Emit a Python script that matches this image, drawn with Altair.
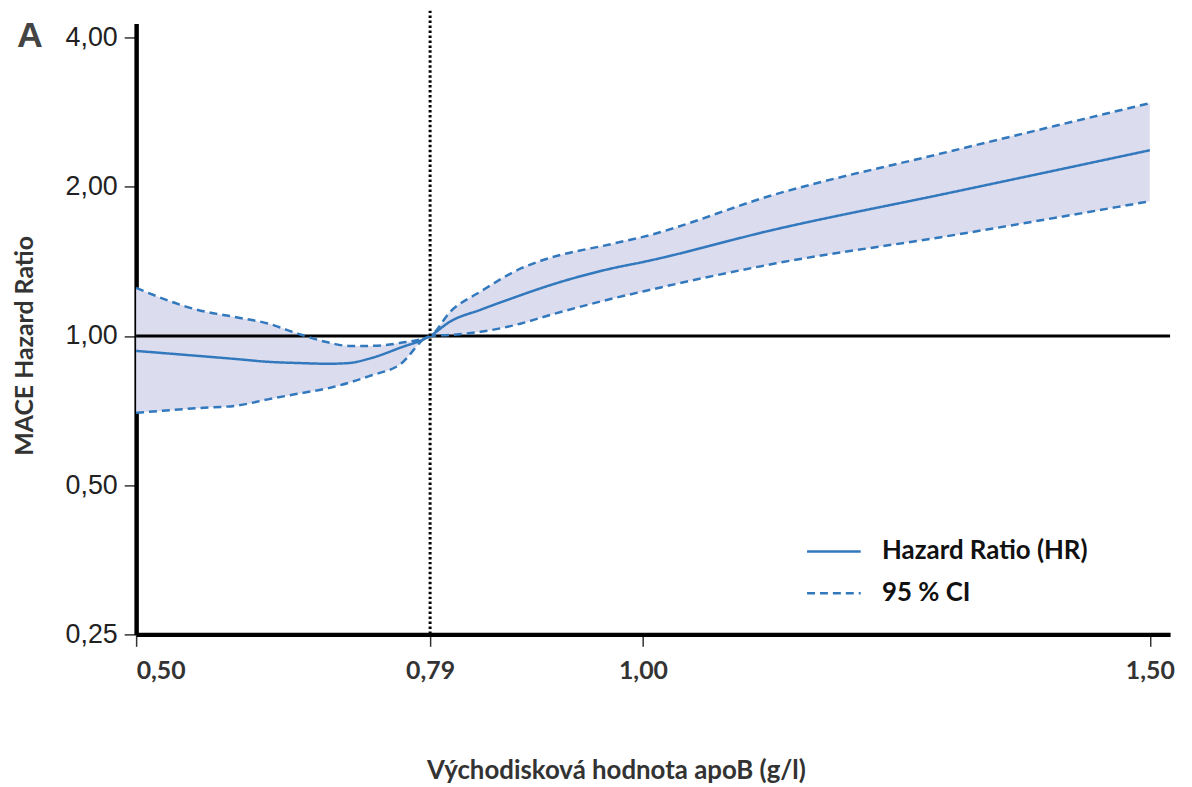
import altair as alt
import pandas as pd

# Baseline apoB (g/l)
x_vals = [0.50, 0.56, 0.60, 0.63, 0.66, 0.69, 0.71, 0.73, 0.76, 0.79, 0.81, 0.84,
          0.88, 0.90, 0.97, 1.00, 1.13, 1.30, 1.50]
hr = [0.933, 0.912, 0.898, 0.887, 0.882, 0.879, 0.882, 0.900, 0.946, 1.0, 1.07, 1.13,
      1.21, 1.25, 1.37, 1.41, 1.64, 1.94, 2.37]
upper = [1.25, 1.13, 1.09, 1.06, 1.01, 0.97, 0.955, 0.955, 0.968, 1.0, 1.12, 1.23,
         1.37, 1.42, 1.535, 1.585, 1.93, 2.35, 2.95]
lower = [0.70, 0.715, 0.724, 0.745, 0.765, 0.785, 0.805, 0.83, 0.875, 1.0, 1.005, 1.02,
         1.06, 1.09, 1.19, 1.23, 1.40, 1.59, 1.87]

series_names = ["Hazard Ratio (HR)", "95 % CI"]
x_ticks = [0.50, 0.79, 1.00, 1.50]
y_ticks = [0.25, 0.5, 1.0, 2.0, 4.0]
ref_x = [0.79]
ref_y = [1.0]

band = pd.DataFrame({"x": x_vals, "lower": lower, "upper": upper})
rows = []
for xv, h, u, l in zip(x_vals, hr, upper, lower):
    rows.append({"x": xv, "y": h, "series": series_names[0], "part": "hr"})
    rows.append({"x": xv, "y": u, "series": series_names[1], "part": "upper"})
    rows.append({"x": xv, "y": l, "series": series_names[1], "part": "lower"})
lines = pd.DataFrame(rows)

BLUE = "#3278bd"
FILL = "#dcdcef"
FONT_B = "Lato"
TXT = "#333333"

xscale = alt.Scale(domain=[0.5, 1.52], nice=False, zero=False)
yscale = alt.Scale(type="log", base=2, domain=[0.25, 4.27], nice=False)

fmt = "replace(format(datum.value, '.2f'), '.', ',')"

x_axis = alt.Axis(values=x_ticks, labelExpr=fmt, grid=False, domainColor="black",
                  domainWidth=4.5, tickColor="#333", tickWidth=1.5, tickSize=12,
                  labelFont=FONT_B, labelFontSize=25, labelFontWeight="bold", labelColor=TXT,
                  labelPadding=12, title="Východisková hodnota apoB (g/l)",
                  titleFont=FONT_B, titleFontSize=26, titleFontWeight="bold", titleColor=TXT,
                  titleX=483, titleY=124, titleBaseline="top")
y_axis = alt.Axis(values=y_ticks, labelExpr=fmt, grid=False, domainColor="black",
                  domainWidth=4.5, tickColor="#333", tickWidth=1.5, tickSize=12,
                  labelFont="Liberation Sans", labelFontSize=27, labelColor="#222",
                  labelPadding=7, title="MACE Hazard Ratio",
                  titleFont=FONT_B, titleFontSize=25, titleFontWeight="bold", titleColor=TXT,
                  titleX=-99, titleY=324)

area = alt.Chart(band).mark_area(color=FILL, opacity=1, interpolate="monotone").encode(
    x=alt.X("x:Q", scale=xscale, axis=x_axis),
    y=alt.Y("lower:Q", scale=yscale, axis=y_axis),
    y2="upper:Q",
)

hline = alt.Chart(pd.DataFrame({"y": ref_y})).mark_rule(color="black", strokeWidth=3).encode(
    y=alt.Y("y:Q", scale=yscale),
    x=alt.value(0), x2=alt.value(1041),
)
vline = alt.Chart(pd.DataFrame({"x": ref_x})).mark_rule(
    color="black", strokeWidth=3, strokeDash=[2.5, 2.5]).encode(
    x=alt.X("x:Q", scale=xscale),
    y=alt.value(-13), y2=alt.value(615),
)

line = alt.Chart(lines).mark_line(color=BLUE, strokeWidth=2.5, interpolate="monotone").encode(
    x=alt.X("x:Q", scale=xscale),
    y=alt.Y("y:Q", scale=yscale),
    detail="part:N",
    strokeDash=alt.StrokeDash(
        "series:N",
        scale=alt.Scale(domain=series_names, range=[[1, 0], [8, 5]]),
        legend=alt.Legend(title=None, orient="none", legendX=674, legendY=503,
                          symbolType="stroke", symbolSize=2916, symbolStrokeWidth=2.5,
                          symbolStrokeColor=BLUE, labelFont=FONT_B, labelFontSize=26,
                          labelFontWeight="bold", labelColor="#111", labelOffset=20,
                          labelLimit=0, rowPadding=-15),
    ),
)

label_a = alt.Chart(pd.DataFrame({"t": ["A"]})).mark_text(
    font="Liberation Sans", fontSize=36, fontWeight="bold", color="#444",
    align="left", baseline="alphabetic").encode(
    text="t:N", x=alt.value(-120), y=alt.value(24))

chart = alt.layer(area, hline, line, vline, label_a).properties(
    width=1041, height=615,
    autosize=alt.AutoSizeParams(type="none"),
    padding={"left": 129, "top": 13, "right": 14, "bottom": 150},
).configure_view(stroke=None)

chart.save("out.html", embed_options={"renderer": "svg", "actions": False})
